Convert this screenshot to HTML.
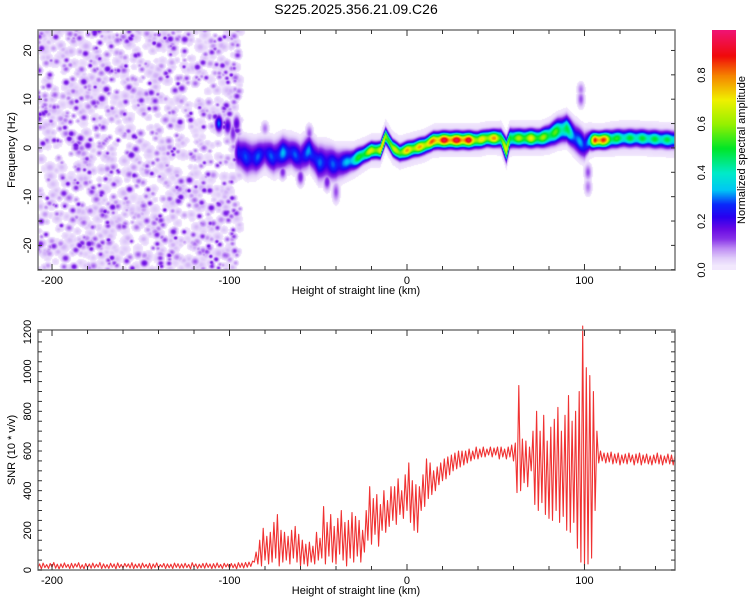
<!DOCTYPE html>
<html><head><meta charset="utf-8">
<style>
html,body{margin:0;padding:0;background:#fff;}
#wrap{position:relative;width:750px;height:600px;overflow:hidden;font-family:"Liberation Sans",sans-serif;}
canvas{position:absolute;}
svg{position:absolute;left:0;top:0;}
text{font-family:"Liberation Sans",sans-serif;fill:#000;}
</style></head>
<body>
<div id="wrap">
<canvas id="spec" width="637" height="240" style="left:38px;top:30px"></canvas>
<canvas id="cbar" width="24" height="240" style="left:712px;top:30px"></canvas>
<svg id="svg" width="750" height="600"></svg>
</div>
<script>
// ---- SNR data (2 km bins starting at -208 km) ----
const snrStart = -208;
const snrStep = 2;
const snrLo = [
10,6,12,8,14,9,5,11,13,7,
10,15,8,6,12,9,11,14,7,10,
8,13,6,12,9,15,10,7,11,8,
13,9,6,12,10,14,8,11,7,13,
9,10,12,6,14,8,11,9,13,7,
10,12,8,15,9,11,6,13,10,14,
18,40,30,20,50,30,40,60,20,40,
50,30,60,40,20,30,20,40,30,50,
60,30,70,40,30,80,50,20,60,40,
70,40,90,150,130,180,120,200,190,220,
250,230,280,260,300,240,200,190,300,320,
360,380,400,430,450,460,480,500,510,520,
530,540,550,560,560,570,570,580,570,580,
560,570,560,570,550,390,400,440,420,500,
330,300,340,280,260,250,300,240,270,200,
190,240,110,40,20,30,60,300,540,550,
540,545,535,540,530,540,535,545,530,540,
530,540,535,530,540,535,530,540,535,530];
const snrHi = [
30,35,27,33,38,29,31,36,28,34,
32,37,26,33,30,35,29,38,31,27,
34,30,36,28,33,31,37,29,32,35,
28,34,30,36,27,33,31,29,35,32,
30,34,28,37,31,29,33,35,30,32,
36,28,34,31,33,30,37,35,38,40,
45,90,150,210,170,190,240,280,200,190,
170,200,220,180,150,130,140,120,190,160,
320,240,280,220,260,300,240,250,290,270,
250,200,300,420,360,380,330,400,350,420,
420,460,400,480,540,450,430,420,480,560,
540,500,520,540,560,570,580,590,600,600,
600,610,600,620,610,620,610,620,615,620,
620,610,620,630,640,930,660,650,620,700,
800,700,780,650,720,760,820,700,780,880,
750,800,900,1230,1020,980,900,700,600,590,
590,595,585,590,580,585,590,580,585,590,
580,585,575,580,590,580,575,585,580,578];

// ---- Spectrogram ridge data ----
const ridgeH = [-95,-90,-85,-80,-75,-70,-65,-60,-55,-50,-45,-40,-35,-30,-25,-20,-15,-12,-8,-4,0,5,10,15,20,25,30,35,40,45,50,53,56,58,62,66,70,75,80,85,90,95,100,103,106,110,115,120,130,140,151];
const ridgeF = [-1,-2,-2,-1,-2,-1,-1,-2,-0.5,-3,-3,-3.5,-3,-2.5,-1.5,-0.5,-0.5,2.5,0,-1,-0.5,0,0.5,1.5,1.6,1.6,1.6,1.6,1.6,2,2,2,-0.5,2,2,2,2,2,2.5,3.5,4,2,0.5,1.5,1.6,1.6,1.8,2,2,1.8,1.6];
const ridgeA = [0.3,0.28,0.3,0.27,0.3,0.33,0.3,0.28,0.32,0.3,0.28,0.3,0.32,0.45,0.6,0.7,0.75,0.7,0.65,0.7,0.78,0.75,0.8,0.85,0.95,0.96,0.96,0.95,0.7,0.75,0.8,0.65,0.7,0.6,0.62,0.65,0.7,0.62,0.6,0.55,0.5,0.35,0.3,0.45,0.95,0.95,0.6,0.5,0.5,0.5,0.48];
const ridgeW = [2.0,2.2,2.0,1.8,2.0,2.0,1.8,2.0,2.0,2.2,2.2,2.0,1.6,1.3,1.1,1.0,1.0,1.0,1.0,1.0,1.0,1.0,1.0,1.0,1.0,1.0,1.0,1.0,1.0,1.0,1.0,1.1,1.4,1.2,1.1,1.1,1.1,1.1,1.3,1.5,1.6,1.8,1.8,1.2,1.0,1.0,1.1,1.1,1.1,1.1,1.1];
// extra blobs: km, Hz, amplitude, sigma Hz
const blobH = [-106,-101,-96,-98,98,98,102,102,-60,-45,-40,-55,-70,-80];
const blobF = [5,4.5,5,3,10,12,-5,-8,-6,-7,-9,3,-5,4];
const blobA = [0.3,0.2,0.18,0.14,0.12,0.1,0.12,0.1,0.15,0.15,0.12,0.12,0.14,0.1];
const blobS = [1.2,1.2,1.2,1.5,1.2,1.0,1.2,1.2,1.2,1.2,1.5,1.2,1.0,1.0];

const xTicks = [-200,-100,0,100];
const fTicks = [-20,-10,0,10,20];
const snrTicks = [0,200,400,600,800,1000,1200];
const cbTicks = [0.0,0.2,0.4,0.6,0.8];

// scales
const X0 = 38, X1 = 675, hMin = -207.9, hMax = 151;
function xs(h){ return X0 + (h - hMin) / (hMax - hMin) * (X1 - X0); }
const T0 = 30, T1 = 270, fMin = -25.05, fMax = 24.2;
function ys(f){ return T1 - (f - fMin) / (fMax - fMin) * (T1 - T0); }
const B0 = 330, B1 = 570, vMin = 0, vMax = 1210;
function yv(v){ return B1 - (v - vMin) / (vMax - vMin) * (B1 - B0); }
const cMax = 0.985;
function yc(c){ return 270 - c / cMax * 240; }

// colormap
const stops = [[0,[255,255,255]],[0.02,[242,232,253]],[0.05,[225,205,250]],[0.09,[190,140,244]],[0.13,[135,50,232]],[0.17,[105,10,228]],[0.22,[40,0,240]],[0.27,[10,40,250]],[0.33,[0,200,245]],[0.4,[0,235,200]],[0.5,[0,230,40]],[0.6,[150,240,0]],[0.7,[240,240,0]],[0.8,[245,130,0]],[0.88,[240,10,10]],[1.0,[240,20,130]]];
function cmap(v){
  if (v <= 0) return stops[0][1];
  for (let i = 1; i < stops.length; i++) {
    if (v <= stops[i][0]) {
      const a = stops[i-1], b = stops[i], t = (v - a[0]) / (b[0] - a[0]);
      return [0,1,2].map(k => Math.round(a[1][k] + (b[1][k] - a[1][k]) * t));
    }
  }
  return stops[stops.length-1][1];
}
function interp(arrX, arrY, x){
  if (x <= arrX[0]) return arrY[0];
  for (let i = 1; i < arrX.length; i++) if (x <= arrX[i]) {
    const t = (x - arrX[i-1]) / (arrX[i] - arrX[i-1]); return arrY[i-1] + (arrY[i] - arrY[i-1]) * t;
  }
  return arrY[arrY.length-1];
}

// ---- spectrogram ----
(function(){
  const cv = document.getElementById('spec'), ctx = cv.getContext('2d');
  const W = cv.width, H = cv.height;
  const field = new Float32Array(W * H);
  const hOf = px => hMin + (px + 0.5) / W * (hMax - hMin);
  const fOf = py => fMax - (py + 0.5) / H * (fMax - fMin);
  // ridge
  for (let px = 0; px < W; px++) {
    const h = hOf(px);
    if (h < ridgeH[0] - 3) continue;
    const f0 = interp(ridgeH, ridgeF, h), A0 = interp(ridgeH, ridgeA, h), w = interp(ridgeH, ridgeW, h);
    const A = A0 * (0.9 + 0.1 * Math.cos(h * 0.9));
    const fade = h < ridgeH[0] ? Math.max(0, 1 - (ridgeH[0] - h) / 3) : 1;
    const hw = w + 1.6;
    for (let py = 0; py < H; py++) {
      const d = fOf(py) - f0;
      const core = A * Math.exp(-d*d / (2*w*w));
      const halo = 0.05 * Math.exp(-d*d / (2*hw*hw));
      const v = Math.max(core, halo) * fade;
      if (v > field[py*W+px]) field[py*W+px] = v;
    }
  }
  function blob(h, f, a, sh, sf){
    const cx = (h - hMin) / (hMax - hMin) * W, cy = (fMax - f) / (fMax - fMin) * H;
    const rx = sh / (hMax - hMin) * W * 3, ry = sf / (fMax - fMin) * H * 3;
    for (let py = Math.max(0, Math.floor(cy - ry)); py < Math.min(H, Math.ceil(cy + ry)); py++)
      for (let px = Math.max(0, Math.floor(cx - rx)); px < Math.min(W, Math.ceil(cx + rx)); px++) {
        const dx = (hOf(px) - h) / sh, dy = (fOf(py) - f) / sf;
        const v = a * Math.exp(-(dx*dx + dy*dy) / 2);
        if (v > field[py*W+px]) field[py*W+px] = v;
      }
  }
  for (let i = 0; i < blobH.length; i++) blob(blobH[i], blobF[i], blobA[i], 1.5, blobS[i]);
  // background noise texture (seeded)
  let seed = 12345;
  const rnd = () => { seed = (seed * 1103515245 + 12345) & 0x7fffffff; return seed / 0x7fffffff; };
  for (let i = 0; i < 1500; i++) {
    const h = -209 + rnd() * 115, f = -26 + rnd() * 51;
    const r = rnd();
    let a, s;
    if (r < 0.55) { a = 0.04 + rnd()*0.03; s = 1.3 + rnd()*1.0; }
    else if (r < 0.82) { a = 0.08 + rnd()*0.035; s = 0.9 + rnd()*0.8; }
    else { a = 0.12 + rnd()*0.05; s = 0.9 + rnd()*0.7; }
    blob(h, f, a, s * 1.05, s * 0.36);
  }
  const img = ctx.createImageData(W, H);
  for (let i = 0; i < W*H; i++) {
    const c = cmap(field[i] < 0.02 ? 0 : field[i]);
    img.data[i*4] = c[0]; img.data[i*4+1] = c[1]; img.data[i*4+2] = c[2]; img.data[i*4+3] = 255;
  }
  ctx.putImageData(img, 0, 0);
  // colorbar
  const cb = document.getElementById('cbar'), c2 = cb.getContext('2d');
  for (let py = 0; py < 240; py++) {
    const c = cmap(Math.max(0.02, (240 - py) / 240 * cMax));
    c2.fillStyle = 'rgb(' + c.join(',') + ')'; c2.fillRect(0, py, 24, 1);
  }
})();

// ---- SVG axes & SNR line ----
(function(){
  const svg = document.getElementById('svg'), NS = 'http://www.w3.org/2000/svg';
  function el(tag, attrs, parent){ const e = document.createElementNS(NS, tag); for (const k in attrs) e.setAttribute(k, attrs[k]); (parent || svg).appendChild(e); return e; }
  function txt(x, y, s, size, rot, anchor){
    const t = el('text', {x: x, y: y, 'font-size': size, 'text-anchor': anchor || 'middle'});
    if (rot) t.setAttribute('transform', 'rotate(-90 ' + x + ' ' + y + ')');
    t.textContent = s; return t;
  }
  const title = txt(356, 14, 'S225.2025.356.21.09.C26', 14);
  
  

  // SNR line
  const pts = [];
  const n = Math.min(snrLo.length, snrHi.length);
  for (let i = 0; i < n; i++) {
    const h = snrStart + i * snrStep;
    pts.push(xs(h).toFixed(1) + ',' + yv(snrLo[i]).toFixed(1));
    pts.push(xs(h + snrStep/2).toFixed(1) + ',' + yv(snrHi[i]).toFixed(1));
  }
  const line = el('polyline', {points: pts.join(' '), fill: 'none', stroke: '#f03232', 'stroke-width': 1.1, 'stroke-linejoin': 'round'});
  
  

  function frame(top, bot, name, yTicksMinor, yfn, yLabels, yLabelFn, yTitle){
    const g = el('g', {});
    
    
    el('rect', {x: X0, y: top, width: X1 - X0, height: bot - top, fill: 'none', stroke: '#777', 'stroke-width': 1.5}, g);
    for (let h = -200; h <= 150; h += 20) {
      const x = xs(h), L = (h % 100 === 0) ? 6 : 4;
      el('line', {x1: x, x2: x, y1: top, y2: top + L, stroke: '#333', 'stroke-width': 1}, g);
      el('line', {x1: x, x2: x, y1: bot, y2: bot - L, stroke: '#333', 'stroke-width': 1}, g);
    }
    yTicksMinor.forEach(v => {
      const y = yfn(v);
      el('line', {x1: X0, x2: X0 + 4, y1: y, y2: y, stroke: '#333', 'stroke-width': 1}, g);
      el('line', {x1: X1, x2: X1 - 4, y1: y, y2: y, stroke: '#333', 'stroke-width': 1}, g);
    });
    xTicks.forEach(h => {
      const t = txt(xs(h), bot + 14, String(h), 11);
      
      
    });
    yLabels.forEach(v => {
      const t = txt(31, yfn(v), yLabelFn(v), 11, true);
      
      
    });
    const xt = txt(356, bot + 24, 'Height of straight line (km)', 11);
    
    
    const yt = txt(15, (top + bot) / 2, yTitle, 11, true);
    
    
  }
  const fMinor = []; for (let f = -25; f <= 20; f += 5) fMinor.push(f);
  frame(T0, T1, 'spectrogram-axes', fMinor, ys, fTicks, v => String(v), 'Frequency (Hz)');
  const vMinor = []; for (let v = 0; v <= 1200; v += 50) vMinor.push(v);
  frame(B0, B1, 'snr-axes', vMinor, yv, snrTicks, v => String(v), 'SNR (10 * v/v)');

  // colorbar axis
  const cg = el('g', {});
  
  
  cbTicks.forEach(c => {
    const t = txt(705, yc(c), c.toFixed(1), 11, true);
    
    
  });
  const ct = txt(745, 150, 'Normalized spectral amplitude', 11, true);
  
  
})();
</script>
</body></html>
